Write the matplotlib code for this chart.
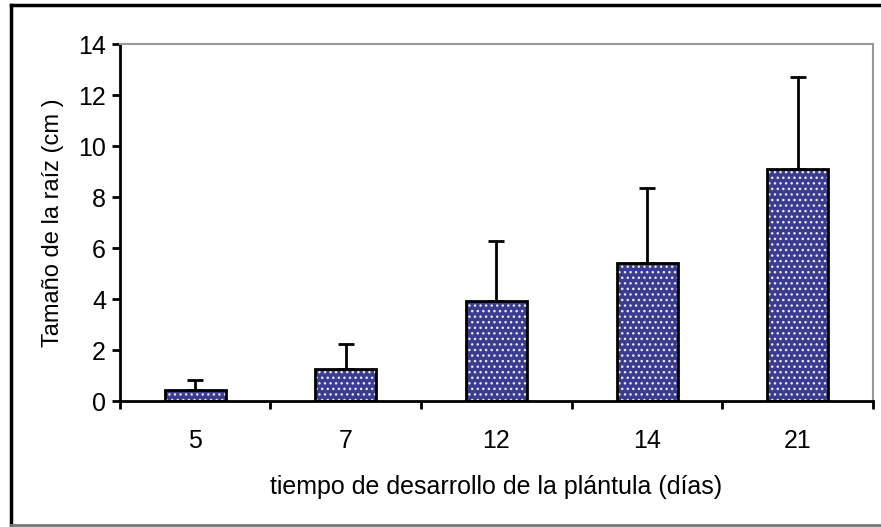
import matplotlib.pyplot as plt
from matplotlib.lines import Line2D
import numpy as np

dias = ['5', '7', '12', '14', '21']
tamano = [0.43, 1.25, 3.92, 5.41, 9.1]
error = [0.39, 0.99, 2.35, 2.94, 3.6]

plt.rcParams['font.family'] = ['Liberation Sans', 'DejaVu Sans']

fig = plt.figure(figsize=(8.81, 5.27), dpi=100)
ax = fig.add_axes([0.136, 0.239, 0.855, 0.6775])

x = np.arange(len(dias))
# bars: white dotted hatch on blue, then black outline on top
ax.bar(x, tamano, width=0.405, color='#3b3b8f', edgecolor='#e8e8f4',
       hatch='...', linewidth=0, zorder=2)
ax.bar(x, tamano, width=0.405, color='none', edgecolor='black',
       linewidth=2, zorder=3)
ax.errorbar(x, tamano, yerr=[np.zeros(len(error)), error], fmt='none',
            ecolor='black', elinewidth=2, capsize=6, capthick=2, zorder=4)

ax.set_xlim(-0.5, len(dias) - 0.5)
ax.set_ylim(0, 14)
ax.set_yticks(range(0, 15, 2))
ax.set_xticks(x)
ax.set_xticklabels(dias)
ax.set_xticks(np.arange(-0.5, len(dias), 1), minor=True)
ax.tick_params(axis='x', which='major', length=0, pad=20, labelsize=18)
ax.tick_params(axis='x', which='minor', length=6, width=2, direction='out')
ax.tick_params(axis='y', length=6, width=2, labelsize=18, pad=4)

for s in ['left', 'bottom']:
    ax.spines[s].set_linewidth(2)
for s in ['top', 'right']:
    ax.spines[s].set_color('#999999')
    ax.spines[s].set_linewidth(1.5)

ax.set_ylabel('Tamaño de la raíz (cm )', fontsize=17, labelpad=10)
ax.set_xlabel('tiempo de desarrollo de la plántula (días)', fontsize=18,
              labelpad=16)

# outer frame of the picture
fig.add_artist(Line2D([0.012, 0.012], [0.004, 0.99], color='black', lw=2.5,
                      transform=fig.transFigure))
fig.add_artist(Line2D([0.012, 1.0], [0.99, 0.99], color='black', lw=2.5,
                      transform=fig.transFigure))
fig.add_artist(Line2D([0.012, 1.0], [0.004, 0.004], color='#777777', lw=2,
                      transform=fig.transFigure))

plt.savefig('out.png', dpi=100)
plt.close('all')
